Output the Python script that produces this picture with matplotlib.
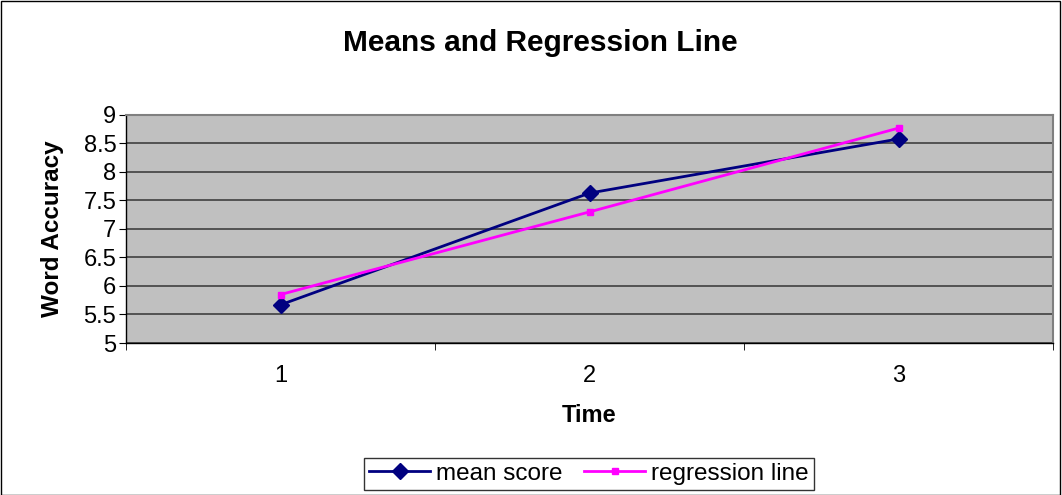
import matplotlib
matplotlib.use("Agg")
import matplotlib.pyplot as plt
from matplotlib.patches import Rectangle

time = [1, 2, 3]
mean_score = [5.67, 7.63, 8.58]
regression_line = [5.85, 7.30, 8.77]
yticks = [5, 5.5, 6, 6.5, 7, 7.5, 8, 8.5, 9]
ytick_labels = ["5", "5.5", "6", "6.5", "7", "7.5", "8", "8.5", "9"]

plt.rcParams['font.family'] = ['Liberation Sans', 'DejaVu Sans']

fig = plt.figure(figsize=(10.62, 4.95), dpi=100)
fig.patches.append(Rectangle((0.0005, 0.001), 0.998, 0.997, transform=fig.transFigure,
                             fill=False, edgecolor='black', linewidth=1.0))
ax = fig.add_axes([126/1062, 1 - 343/495, (1053-126)/1062, (343-115)/495])
ax.set_facecolor('#C0C0C0')

ax.plot(time, mean_score, color='#000080', linewidth=2, marker='D', markersize=8.5,
        label='mean score', zorder=3)
ax.plot(time, regression_line, color='#FF00FF', linewidth=2, marker='s', markersize=5,
        label='regression line', zorder=3)

ax.set_xlim(0.5, 3.5)
ax.set_ylim(5, 9)
ax.set_yticks(yticks)
ax.set_yticklabels(ytick_labels)
ax.yaxis.grid(True, color='#404040', linewidth=1.2)
ax.set_axisbelow(True)
ax.set_xticks(time)
ax.set_xticklabels([str(t) for t in time])
ax.set_xticks([0.5, 1.5, 2.5, 3.5], minor=True)
ax.tick_params(axis='x', which='major', length=0, pad=16, labelsize=17)
ax.tick_params(axis='x', which='minor', length=5, direction='out', color='black')
ax.tick_params(axis='y', length=5, direction='out', labelsize=17, pad=2)

for s in ['left', 'bottom']:
    ax.spines[s].set_color('black')
    ax.spines[s].set_linewidth(1.0)
for s in ['top', 'right']:
    ax.spines[s].set_color('#808080')
    ax.spines[s].set_linewidth(1.5)

ax.set_xlabel('Time', fontsize=17, fontweight='bold', labelpad=12)
ax.set_ylabel('Word Accuracy', fontsize=17.5, fontweight='bold', labelpad=14)
fig.text(540/1062, 1 - 43/495, 'Means and Regression Line', fontsize=21.5, fontweight='bold',
         ha='center', va='center')

leg = fig.legend(loc='center', bbox_to_anchor=(589/1062, 1 - 474/495), ncol=2, fontsize=17.5,
                 frameon=True, fancybox=False, edgecolor='black', handlelength=2.5,
                 columnspacing=0.9, handletextpad=0.25, borderpad=0.2)
leg.get_frame().set_linewidth(1.0)

fig.savefig('out.png', dpi=100)
